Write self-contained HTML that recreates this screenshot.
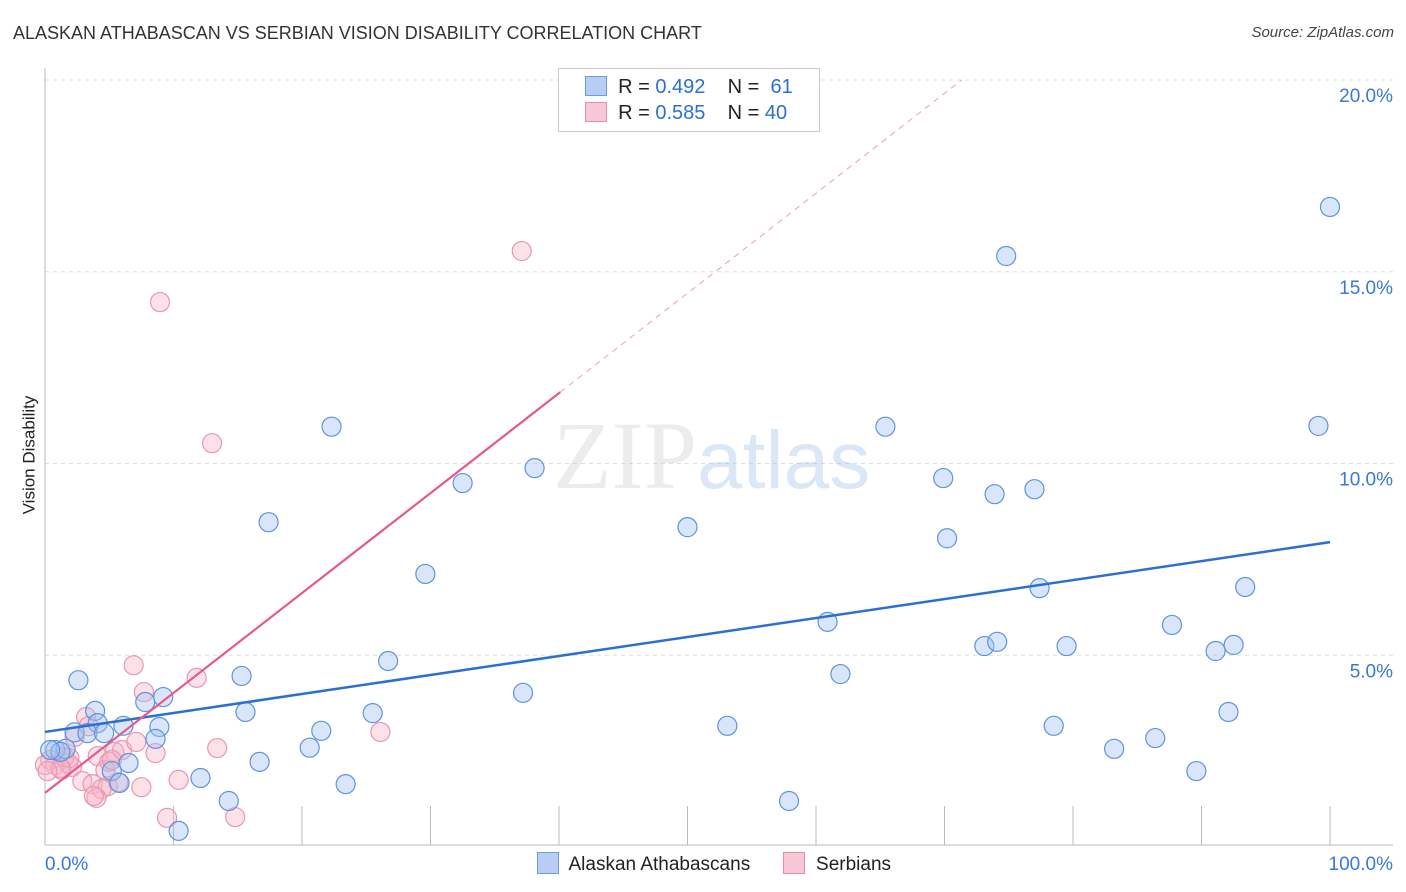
<!DOCTYPE html>
<html><head><meta charset="utf-8"><style>
body{margin:0;background:#fff;font-family:"Liberation Sans",sans-serif}
#wrap{position:relative;width:1406px;height:892px;overflow:hidden}
.t{position:absolute;white-space:nowrap}
</style></head><body>
<div id="wrap">
<div class="t" style="left:13px;top:23px;font-size:18px;color:#333">ALASKAN ATHABASCAN VS SERBIAN VISION DISABILITY CORRELATION CHART</div>
<div class="t" style="right:12px;top:24px;font-size:15px;color:#444;font-style:italic">Source: ZipAtlas.com</div>
<div class="t" style="left:-30px;top:445px;font-size:17px;color:#222;transform:rotate(-90deg)">Vision Disability</div>
<svg id="svg" width="1406" height="892" style="position:absolute;left:0;top:0"></svg>
<div class="t" style="left:553px;top:400px;font-size:96px;color:rgba(200,200,200,0.35);font-family:'Liberation Serif',serif">ZIP<span style="font-family:'Liberation Sans',sans-serif;color:rgba(150,185,230,0.35);font-size:82px">atlas</span></div>
<div style="position:absolute;left:558px;top:68px;width:260px;height:62px;border:1px solid #ccc;background:#fff;font-size:20px;color:#222">
 <div style="position:absolute;left:26px;top:7px"><span style="display:inline-block;width:20px;height:18px;background:#b7cdf3;border:1px solid #6c9be0;vertical-align:-3px"></span>&nbsp; R = <span style="color:#2b6fd1">0.492</span>&nbsp;&nbsp;&nbsp; N = &nbsp;<span style="color:#2b6fd1">61</span></div>
 <div style="position:absolute;left:26px;top:33px"><span style="display:inline-block;width:20px;height:18px;background:#f8c7d5;border:1px solid #e88aa8;vertical-align:-3px"></span>&nbsp; R = <span style="color:#2b6fd1">0.585</span>&nbsp;&nbsp;&nbsp; N = <span style="color:#2b6fd1">40</span></div>
</div>
<div style="position:absolute;left:537px;top:852px;font-size:19px;color:#222">
 <span><span style="display:inline-block;width:20px;height:20px;background:#b7cdf3;border:1px solid #6c9be0;vertical-align:-4px"></span>&nbsp; Alaskan Athabascans</span>
 <span style="margin-left:28px"><span style="display:inline-block;width:20px;height:20px;background:#f8c7d5;border:1px solid #e88aa8;vertical-align:-4px"></span>&nbsp; Serbians</span>
</div>
</div>
<script>
const blueX=[100,74.8,22.3,65.4,99.1,38.1,32.5,69.9,73.9,77,17.4,50,70.2,29.6,77.4,93.4,60.9,87.7,73.1,74.1,79.5,91.1,92.5,26.7,61.9,2.6,15.3,37.2,9.2,7.8,15.6,25.5,92.1,3.9,4.1,6.1,8.9,21.5,53.1,78.5,2.3,3.3,4.6,8.6,20.6,83.2,86.4,0.8,1.6,1.2,16.7,6.5,5.2,89.6,12.1,5.8,23.4,14.3,57.9,10.4,0.4];
const blueY=[16.69,15.41,10.96,10.96,10.98,9.88,9.49,9.62,9.2,9.33,8.47,8.34,8.05,7.12,6.75,6.78,5.87,5.79,5.24,5.35,5.24,5.11,5.27,4.85,4.51,4.35,4.46,4.02,3.91,3.78,3.52,3.49,3.52,3.55,3.23,3.16,3.13,3.03,3.16,3.16,2.99,2.97,2.97,2.82,2.59,2.56,2.84,2.53,2.56,2.48,2.22,2.19,1.98,1.98,1.80,1.67,1.64,1.2,1.2,0.42,2.53];
const pinkX=[37.1,8.95,13,6.9,7.7,11.8,3.2,3.4,2.3,26.1,5.4,6,8.6,13.4,7.1,4.1,5,0.4,0.8,1.3,1.8,2.1,2.9,3.7,4.9,4.4,5.7,7.5,10.4,4,3.8,9.5,14.8,0,1.5,1.9,4.7,5.2,1.2,0.2];
const pinkY=[15.54,14.21,10.53,4.74,4.04,4.41,3.39,3.15,2.87,3,2.48,2.53,2.45,2.58,2.74,2.37,2.22,2.27,2.14,2.01,2.19,2.09,1.72,1.64,1.59,1.51,1.69,1.56,1.75,1.28,1.33,0.76,0.78,2.14,2.35,2.32,2.01,2.27,2.06,1.98];
const blueLine=[3.0,7.95]; // y at x=0 and x=100
const pinkLine=[1.41,0.2606]; // intercept, slope
const yTicks=[5,10,15,20];
const xLabels=["0.0%","100.0%"];
const NS="http://www.w3.org/2000/svg";
const svg=document.getElementById('svg');
const X=v=>45+v*12.85, Y=v=>847-v*38.35;
function mk(tag,a){const e=document.createElementNS(NS,tag);for(const k in a)e.setAttribute(k,a[k]);svg.appendChild(e);return e;}
yTicks.forEach(t=>{
 const g=mk('line',{x1:45,x2:1393,y1:Y(t),y2:Y(t),stroke:'#ddd','stroke-dasharray':'4,4'});
 
 
 const tx=mk('text',{x:1393,y:Y(t)+22,'text-anchor':'end','font-size':19,fill:'#3a78d6','font-family':'Liberation Sans'});
 tx.textContent=t.toFixed(1)+'%';
 
 
});
const ax=mk('line',{x1:45,x2:45,y1:68,y2:845,stroke:'#bbb'});


const bx=mk('line',{x1:45,x2:1393,y1:845,y2:845,stroke:'#bbb'});


for(let i=1;i<=10;i++){
 const tk=mk('line',{x1:X(i*10),x2:X(i*10),y1:806,y2:845,stroke:'#bbb'});
 
 
}
[[0,'start',45],[100,'end',1393]].forEach((p,i)=>{
 const tx=mk('text',{x:p[2],y:870,'text-anchor':p[1],'font-size':19,fill:'#3a78d6','font-family':'Liberation Sans'});
 tx.textContent=xLabels[i];
 
 
});
function pts(xs,ys,fill,stroke,name){xs.forEach((x,i)=>{
 const c=mk('circle',{cx:X(x),cy:Y(ys[i]),r:9.5,fill:fill,stroke:stroke,'stroke-width':1.2});
 
 
});}
pts(pinkX,pinkY,'rgba(248,180,200,0.4)','#e897b0','point-serbian');
pts(blueX,blueY,'rgba(160,192,240,0.4)','#5f93dc','point-alaskan');
const bl=mk('line',{x1:X(0),y1:Y(blueLine[0]),x2:X(100),y2:Y(blueLine[1]),stroke:'#2b6fd1','stroke-width':2.5});


const pEnd=40.1, pDash=(20-pinkLine[0])/pinkLine[1];
const pl=mk('line',{x1:X(0),y1:Y(pinkLine[0]),x2:X(pEnd),y2:Y(pinkLine[0]+pinkLine[1]*pEnd),stroke:'#e45b8a','stroke-width':2.2});


const pd=mk('line',{x1:X(pEnd),y1:Y(pinkLine[0]+pinkLine[1]*pEnd),x2:X(pDash),y2:Y(20),stroke:'#eaa0b8','stroke-width':1,'stroke-dasharray':'6,5'});


</script>
</body></html>
